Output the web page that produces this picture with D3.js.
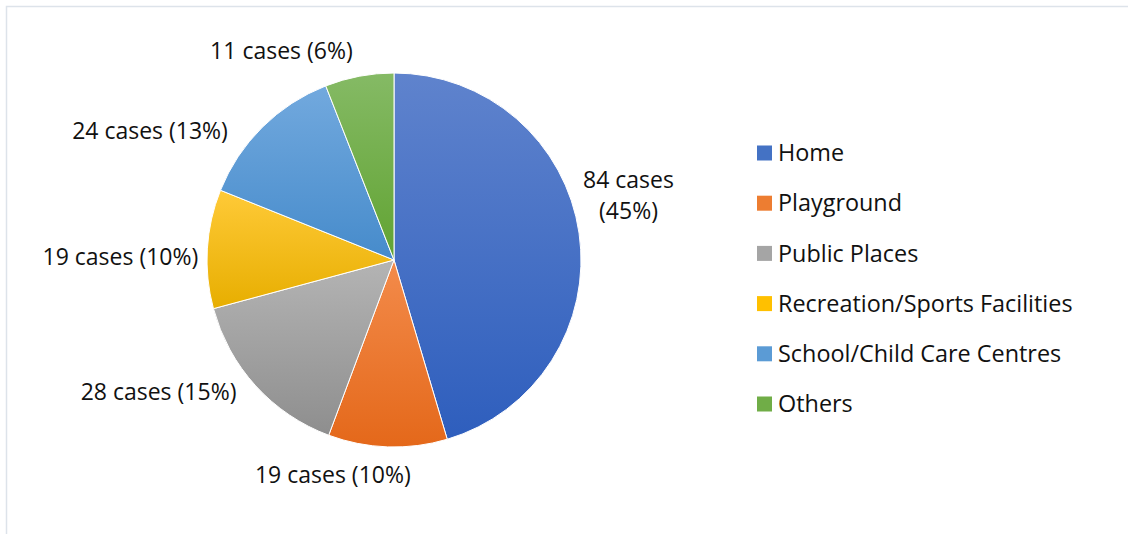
<!DOCTYPE html>
<html>
<head>
<meta charset="utf-8">
<script src="https://cdn.jsdelivr.net/npm/d3@7"></script>
<style>
  body { margin: 0; background: #fff; }
  text { font-family: "Open Sans", "Noto Sans", sans-serif; fill: #111; }
</style>
</head>
<body>
<div class="chart"></div>
<script>
const categories = ["Home", "Playground", "Public Places", "Recreation/Sports Facilities", "School/Child Care Centres", "Others"];
const cases = [84, 19, 28, 19, 24, 11];

// gradient ends per slice (top lighter, bottom darker)
const colorTop = ["#5f83cd", "#f38b4b", "#b4b4b4", "#ffca38", "#72a9de", "#85ba65"];
const colorBottom = ["#2e5ebd", "#e4681a", "#8e8e8e", "#e7ae00", "#468bcb", "#61a332"];
const legendColor = ["#4472c4", "#ed7d31", "#a5a5a5", "#ffc000", "#5b9bd5", "#70ad47"];

// best-fit nudges for the data labels, relative to the label arc
const labelNudge = [[-3, -30], [-53, -25], [-58, -30], [-34, 11], [-75, 41], [-68, 27]];

function drawChart() {
  const width = 1128;
  const height = 534;
  const cx = 394, cy = 260, radius = 187;

  const svg = d3.select(".chart").append("svg")
    .attr("width", width)
    .attr("height", height);

  // chart area border
  svg.append("rect")
    .attr("x", 6.5).attr("y", 6.5)
    .attr("width", 1300).attr("height", 700)
    .attr("fill", "none")
    .attr("stroke", "#dde3ea")
    .attr("stroke-width", 1.5);

  const data = categories.map((c, i) => ({name: c, value: cases[i], i: i}));
  const total = d3.sum(cases);

  const defs = svg.append("defs");
  data.forEach(d => {
    const g = defs.append("linearGradient")
      .attr("id", "grad" + d.i)
      .attr("x1", 0).attr("y1", 0).attr("x2", 0).attr("y2", 1);
    g.append("stop").attr("offset", "0%").attr("stop-color", colorTop[d.i]);
    g.append("stop").attr("offset", "100%").attr("stop-color", colorBottom[d.i]);
  });

  const pie = d3.pie().sort(null).value(d => d.value);
  const arc = d3.arc().innerRadius(0).outerRadius(radius);
  const labelArc = d3.arc().innerRadius(240).outerRadius(240);

  const arcs = pie(data);
  const g = svg.append("g").attr("transform", `translate(${cx},${cy})`);

  g.selectAll("path")
    .data(arcs)
    .enter()
    .append("path")
      .attr("d", arc)
      .attr("fill", d => `url(#grad${d.data.i})`)
      .attr("stroke", "#fff")
      .attr("stroke-width", 1);

  const labels = g.selectAll("text.lbl")
    .data(arcs)
    .enter()
    .append("text")
      .attr("class", "lbl")
      .attr("text-anchor", "middle")
      .style("font-size", "23px")
      .attr("transform", d => {
        const [x, y] = labelArc.centroid(d);
        const n = labelNudge[d.data.i];
        return `translate(${x + n[0]},${y + n[1]})`;
      });

  labels.each(function(d) {
    const pct = Math.round(d.data.value / total * 100);
    const lines = d.data.i == 0
      ? [`${d.data.value} cases`, `(${pct}%)`]
      : [`${d.data.value} cases (${pct}%)`];
    const t = d3.select(this);
    lines.forEach((l, k) => {
      t.append("tspan")
        .attr("x", 0)
        .attr("y", (k - (lines.length - 1) / 2) * 31)
        .attr("dy", "0.35em")
        .text(l);
    });
  });

  // legend
  const legendY = d3.scalePoint().domain(categories).range([153, 404]);
  const legend = svg.append("g");

  legend.selectAll("rect")
    .data(data)
    .enter()
    .append("rect")
      .attr("x", 757)
      .attr("y", d => legendY(d.name) - 7.5)
      .attr("width", 15)
      .attr("height", 15)
      .attr("fill", d => legendColor[d.i]);

  legend.selectAll("text")
    .data(data)
    .enter()
    .append("text")
      .attr("x", 778)
      .attr("y", d => legendY(d.name))
      .attr("dy", "0.35em")
      .style("font-size", "23.4px")
      .text(d => d.name);
}

drawChart();
</script>
</body>
</html>
